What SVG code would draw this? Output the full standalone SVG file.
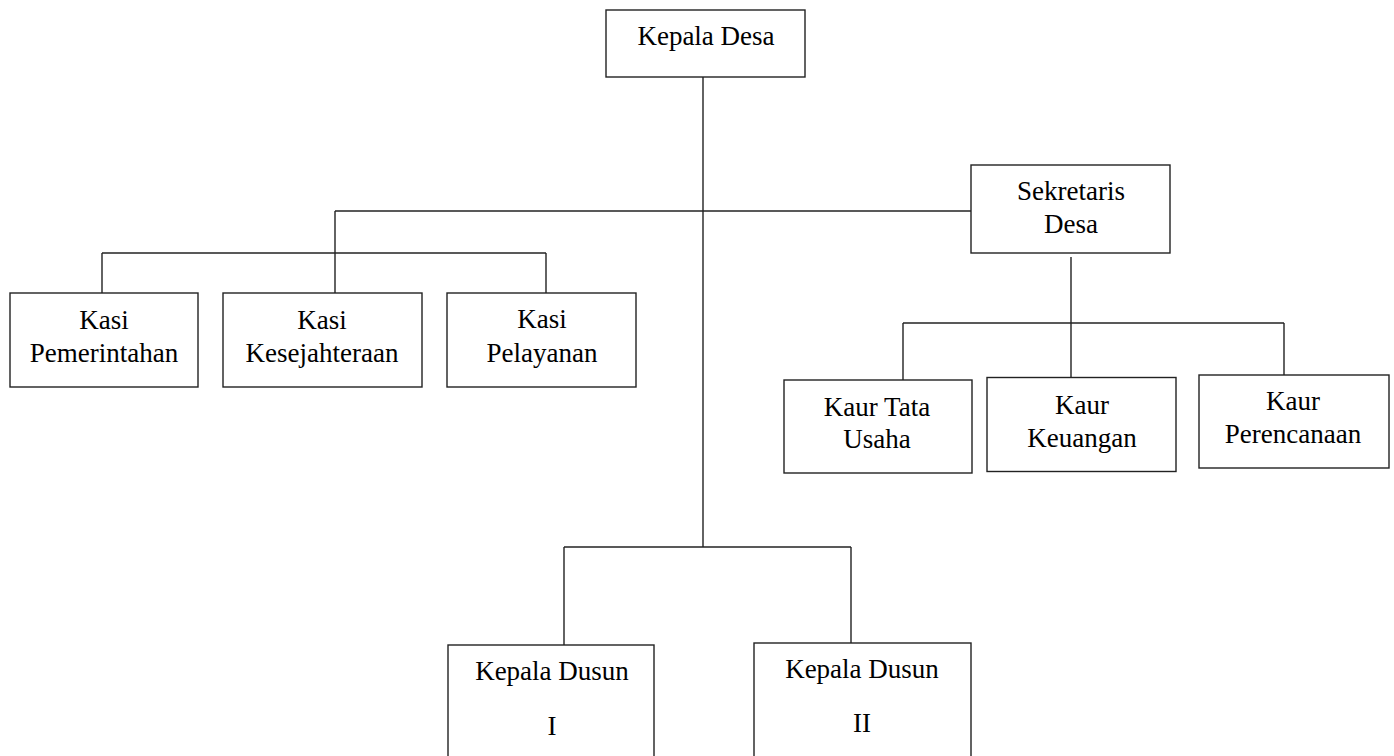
<svg xmlns="http://www.w3.org/2000/svg" width="1394" height="756" viewBox="0 0 1394 756">
<style>
rect.box{fill:#fff;stroke:#222;stroke-width:1.4}
.conn line{stroke:#222;stroke-width:1.4}
text{font-family:"Liberation Serif",serif;font-size:27px;fill:#000;text-anchor:middle}
</style>
<rect width="1394" height="756" fill="#fff"/>
<g class="conn">
<line x1="703" y1="77" x2="703" y2="547"/>
<line x1="335" y1="211" x2="971" y2="211"/>
<line x1="335" y1="211" x2="335" y2="293"/>
<line x1="102" y1="253" x2="546" y2="253"/>
<line x1="102" y1="253" x2="102" y2="293"/>
<line x1="546" y1="253" x2="546" y2="293"/>
<line x1="1071" y1="257" x2="1071" y2="377"/>
<line x1="903" y1="323" x2="1284" y2="323"/>
<line x1="903" y1="323" x2="903" y2="380"/>
<line x1="1284" y1="323" x2="1284" y2="375"/>
<line x1="564" y1="547" x2="851" y2="547"/>
<line x1="564" y1="547" x2="564" y2="645"/>
<line x1="851" y1="547" x2="851" y2="643"/>
</g>
<g id="kepala-desa"><rect class="box" x="606" y="10" width="199" height="67"/><text x="706" y="45">Kepala Desa</text></g>
<g id="sekretaris-desa"><rect class="box" x="971" y="165" width="199" height="88"/><text x="1071" y="200">Sekretaris</text><text x="1071" y="233">Desa</text></g>
<g id="kasi-pemerintahan"><rect class="box" x="10" y="293" width="188" height="94"/><text x="104" y="329">Kasi</text><text x="104" y="362">Pemerintahan</text></g>
<g id="kasi-kesejahteraan"><rect class="box" x="223" y="293" width="199" height="94"/><text x="322" y="329">Kasi</text><text x="322" y="362">Kesejahteraan</text></g>
<g id="kasi-pelayanan"><rect class="box" x="447" y="293" width="189" height="94"/><text x="542" y="328">Kasi</text><text x="542" y="362">Pelayanan</text></g>
<g id="kaur-tata-usaha"><rect class="box" x="784" y="380" width="188" height="93"/><text x="877" y="416">Kaur Tata</text><text x="877" y="448">Usaha</text></g>
<g id="kaur-keuangan"><rect class="box" x="987" y="377.5" width="189" height="94"/><text x="1082" y="414">Kaur</text><text x="1082" y="447">Keuangan</text></g>
<g id="kaur-perencanaan"><rect class="box" x="1199" y="375" width="190" height="93"/><text x="1293" y="410">Kaur</text><text x="1293" y="443">Perencanaan</text></g>
<g id="kepala-dusun-1"><rect class="box" x="448" y="645" width="206" height="120"/><text x="552" y="680">Kepala Dusun</text><text x="552" y="735">I</text></g>
<g id="kepala-dusun-2"><rect class="box" x="754" y="643" width="217" height="120"/><text x="862" y="678">Kepala Dusun</text><text x="862" y="732">II</text></g>
</svg>
